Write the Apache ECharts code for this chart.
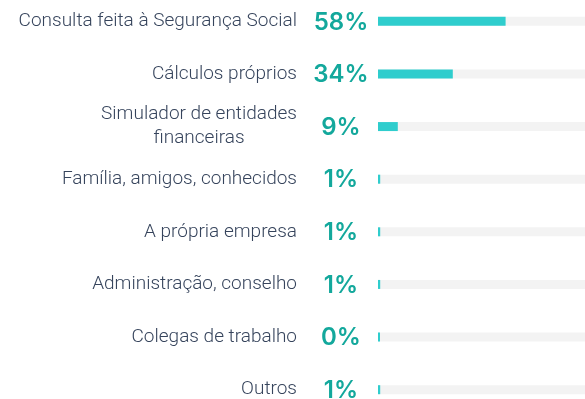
<!DOCTYPE html>
<html>
<head>
<meta charset="utf-8">
<script src="https://cdn.jsdelivr.net/npm/echarts@6/dist/echarts.min.js"></script>
<style>
  html, body { margin: 0; padding: 0; background: #ffffff; }
  #chart { width: 585px; height: 399px; }
</style>
</head>
<body>
<div id="chart"></div>
<script>
// Sources used to estimate the pension amount (share of respondents, %)
const categories = [
  'Consulta feita à Segurança Social',
  'Cálculos próprios',
  'Simulador de entidades\nfinanceiras',
  'Família, amigos, conhecidos',
  'A própria empresa',
  'Administração, conselho',
  'Colegas de trabalho',
  'Outros'
];
const shares = [58, 34, 9, 1, 1, 1, 0, 1];

const chart = echarts.init(document.getElementById('chart'));

chart.setOption({
  animation: false,
  backgroundColor: '#ffffff',
  grid: {
    left: 378, right: -13, top: -5, bottom: -17,
    outerBoundsMode: 'none',
    containLabel: false
  },
  xAxis: {
    type: 'value',
    min: 0,
    max: 100,
    show: false
  },
  yAxis: {
    type: 'category',
    inverse: true,
    data: categories,
    axisLine: { show: false },
    axisTick: { show: false },
    splitLine: { show: false },
    axisLabel: {
      margin: 81,
      color: '#36445c',
      fontFamily: 'Roboto',
      fontWeight: 300,
      fontSize: 19,
      lineHeight: 24,
      formatter: function (v) {
        return v.split('\n').map(function (s) { return '{c|' + s + '}'; }).join('\n');
      },
      rich: {
        c: {
          align: 'center',
          color: '#36445c',
          fontFamily: 'Roboto',
          fontWeight: 300,
          fontSize: 19,
          lineHeight: 24
        }
      }
    }
  },
  series: [{
    type: 'bar',
    data: shares,
    barWidth: 9,
    barMinHeight: 2,
    itemStyle: { color: '#2fcdcd' },
    showBackground: true,
    backgroundStyle: { color: '#f3f3f3' },
    label: {
      show: true,
      position: 'left',
      distance: 37,
      align: 'center',
      offset: [0, 1],
      formatter: '{c}%',
      color: '#13a89c',
      fontFamily: 'Inter',
      fontWeight: 600,
      fontSize: 24
    }
  }]
});
</script>
</body>
</html>
